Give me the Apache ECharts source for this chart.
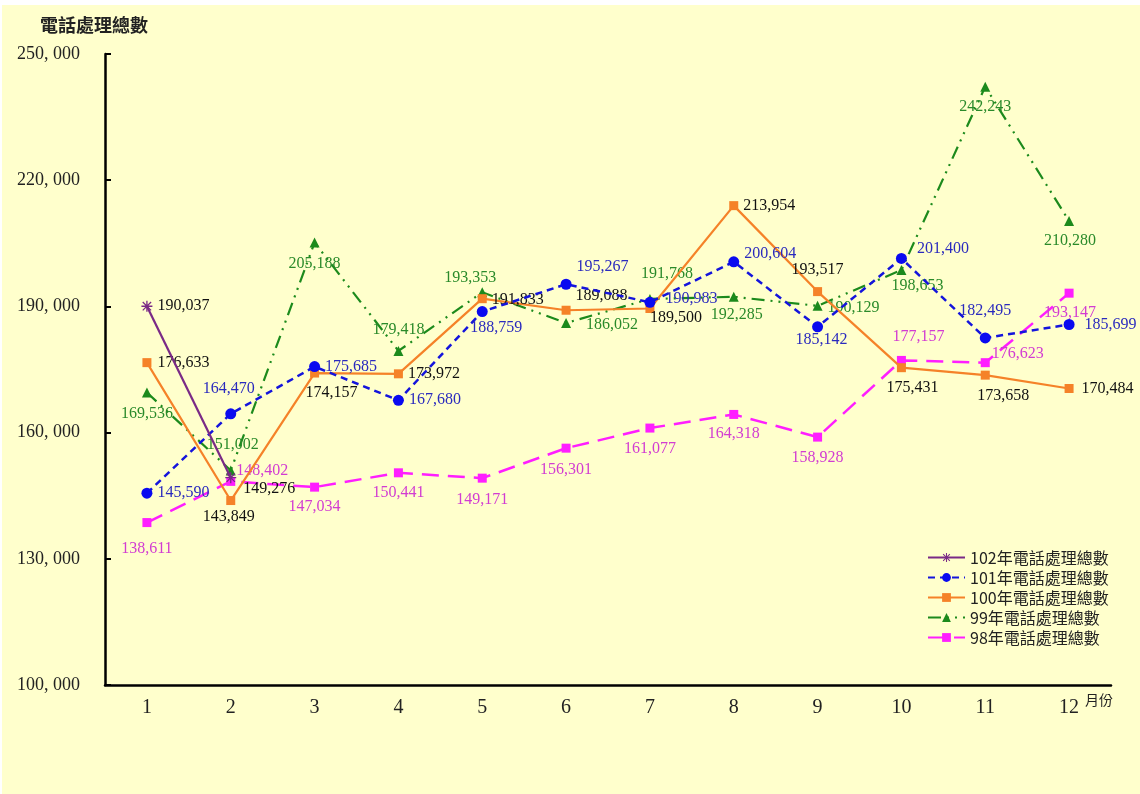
<!DOCTYPE html>
<html>
<head>
<meta charset="utf-8">
<script src="https://cdn.jsdelivr.net/npm/echarts@6/dist/echarts.min.js"></script>
<style>
  html, body { margin: 0; padding: 0; background: #ffffff; }
  #chart { position: absolute; left: 2px; top: 5px; width: 1138px; height: 789px; }
</style>
</head>
<body>
<div id="chart"></div>
<script>
// Monthly totals of handled phone calls, one series per year
const months = ['1', '2', '3', '4', '5', '6', '7', '8', '9', '10', '11', '12'];
const yTicks = [100000, 130000, 160000, 190000, 220000, 250000];
const yTickLabels = ['100, 000', '130, 000', '160, 000', '190, 000', '220, 000', '250, 000'];

const seriesNames = ['102年電話處理總數', '101年電話處理總數', '100年電話處理總數', '99年電話處理總數', '98年電話處理總數'];
const calls102 = [190037, 149276];
const calls101 = [145590, 164470, 175685, 167680, 188759, 195267, 190983, 200604, 185142, 201400, 182495, 185699];
const calls100 = [176633, 143849, 174157, 173972, 191833, 189088, 189500, 213954, 193517, 175431, 173658, 170484];
const calls99  = [169536, 151002, 205188, 179418, 193353, 186052, 191768, 192285, 190129, 198653, 242243, 210280];
const calls98  = [138611, 148402, 147034, 150441, 149171, 156301, 161077, 164318, 158928, 177157, 176623, 193147];

// Where each value label sits around its point: [position, dx, dy]
const place102 = [['right', 0, 0], ['right', 2, 11]];
const place101 = [['right', 0, 0], ['top', -2, -6], ['right', 0, 0], ['right', 0, 0], ['bottom', 14, -2], ['right', 0, -17],
                  ['right', 5, -3], ['right', 0, -8], ['bottom', 4, -6], ['right', 5, -10], ['top', 0, -9], ['right', 5, 0]];
const place100 = [['right', 1, 0], ['bottom', -2, -1], ['bottom', 17, 2], ['right', 0, 0], ['right', 0, 1], ['right', 0, -14],
                  ['bottom', 26, -8], ['right', 0, 0], ['top', 0, -4], ['bottom', 11, 3], ['bottom', 18, 3], ['right', 3, 0]];
const place99  = [['bottom', 0, 3], ['top', 2, -8], ['bottom', 0, 3], ['top', 0, -3], ['top', -12, 4], ['right', 10, 2],
                  ['top', 17, -7], ['bottom', 3, 0], ['right', 0, 2], ['bottom', 16, -2], ['bottom', 0, 2], ['bottom', 1, 2]];
const place98  = [['bottom', 0, 9], ['right', -4, -11], ['bottom', 0, 2], ['bottom', 0, 2], ['bottom', 0, 4], ['bottom', 0, 4],
                  ['bottom', 0, 3], ['bottom', 0, 2], ['bottom', 0, 3], ['top', 17, -6], ['right', -3, -9], ['bottom', 1, 2]];

const fmt = v => v.toLocaleString('en-US');
const labelFont = 'Liberation Serif, Times New Roman, serif';
const cjkFont = 'Noto Sans CJK TC, sans-serif';

function withLabels(values, places, color) {
  return values.map((v, i) => ({
    value: v,
    label: {
      show: true,
      position: places[i][0],
      offset: [places[i][1], places[i][2]],
      color: color,
      fontFamily: labelFont,
      fontSize: 16,
      formatter: p => fmt(p.value)
    }
  }));
}

// asterisk-like marker built from thin filled bars
const starPath = 'path://M0,4.4L10,4.4L10,5.6L0,5.6Z M4.4,0L5.6,0L5.6,10L4.4,10Z M0.8,1.6L1.6,0.8L9.2,8.4L8.4,9.2Z M8.4,0.8L9.2,1.6L1.6,9.2L0.8,8.4Z';

const chart = echarts.init(document.getElementById('chart'));
chart.setOption({
  backgroundColor: '#FFFFCC',
  animation: false,
  title: {
    text: '電話處理總數',
    left: 33, top: 6,
    textStyle: { fontFamily: cjkFont, fontSize: 18, fontWeight: 'bold', color: '#222' }
  },
  legend: {
    orient: 'vertical',
    left: 920, top: 539,
    itemWidth: 37, itemHeight: 11, itemGap: 3,
    textStyle: { fontFamily: cjkFont, fontSize: 16, color: '#222', lineHeight: 17 },
    data: seriesNames
  },
  grid: { left: 103, right: 29, top: 49, bottom: 109 },
  xAxis: {
    type: 'category',
    data: months,
    boundaryGap: true,
    axisLine: { lineStyle: { color: '#000', width: 2.5 } },
    axisTick: { inside: true, length: 6, lineStyle: { color: '#000', width: 2 } },
    axisLabel: { fontFamily: labelFont, fontSize: 20, color: '#222', margin: 13 },
    splitLine: { show: false }
  },
  yAxis: {
    type: 'value',
    min: 100000, max: 250000,
    axisLine: { show: true, lineStyle: { color: '#000', width: 2.5 } },
    axisTick: { show: true, inside: true, length: 6, customValues: yTicks, lineStyle: { color: '#000', width: 2 } },
    axisLabel: {
      customValues: yTicks,
      fontFamily: labelFont, fontSize: 18, color: '#222', margin: 25,
      formatter: v => yTickLabels[yTicks.indexOf(v)]
    },
    splitLine: { show: false }
  },
  graphic: [{
    type: 'text', left: 1083, top: 688,
    style: { text: '月份', font: '14px "Noto Sans CJK TC"', fill: '#222' }
  }],
  series: [
    {
      name: seriesNames[4], type: 'line', data: withLabels(calls98, place98, '#D23CD2'),
      symbol: 'rect', symbolSize: 9,
      lineStyle: { color: '#FF1EFF', width: 2.5, type: [17, 9] },
      itemStyle: { color: '#FF1EFF' }, z: 2
    },
    {
      name: seriesNames[3], type: 'line', data: withLabels(calls99, place99, '#2A8A2A'),
      symbol: 'triangle', symbolSize: 10,
      lineStyle: { color: '#1C8A1C', width: 2.2, type: [13, 6, 2, 6, 2, 6] },
      itemStyle: { color: '#1C8A1C' }, z: 3
    },
    {
      name: seriesNames[2], type: 'line', data: withLabels(calls100, place100, '#111'),
      symbol: 'rect', symbolSize: 9,
      lineStyle: { color: '#F58228', width: 2.2 },
      itemStyle: { color: '#F58228' }, z: 4
    },
    {
      name: seriesNames[1], type: 'line', data: withLabels(calls101, place101, '#2A2ABE'),
      symbol: 'circle', symbolSize: 11,
      lineStyle: { color: '#1414DC', width: 2.5, type: [7, 5] },
      itemStyle: { color: '#0A0AF0' }, z: 5
    },
    {
      name: seriesNames[0], type: 'line', data: withLabels(calls102, place102, '#111'),
      symbol: starPath, symbolSize: 11,
      lineStyle: { color: '#7A2A86', width: 2.2 },
      itemStyle: { color: '#7A2A86' }, z: 6
    }
  ]
});
</script>
</body>
</html>
